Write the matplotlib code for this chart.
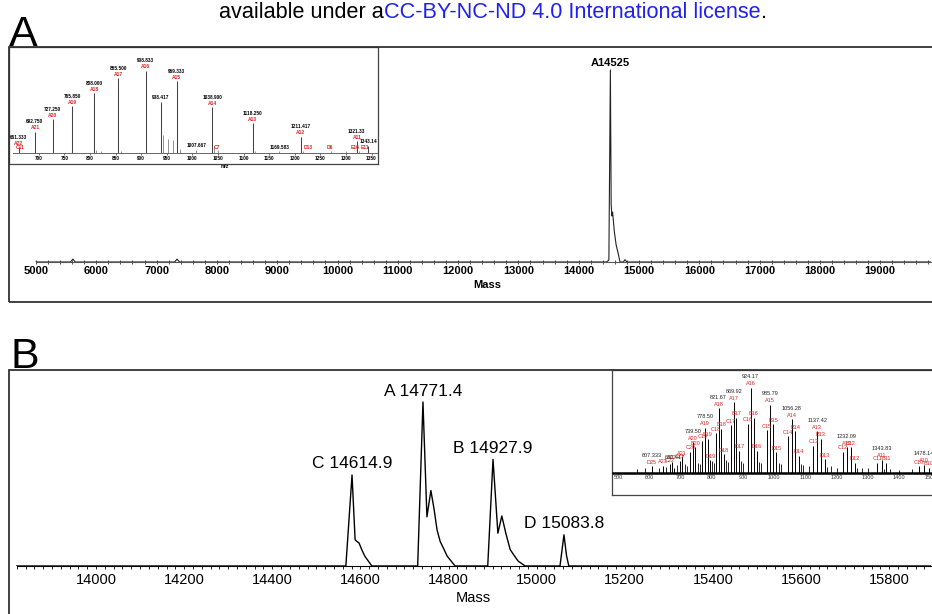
import matplotlib
matplotlib.use("Agg")
import matplotlib.pyplot as plt
from matplotlib.patches import Rectangle
from matplotlib.ticker import MultipleLocator, FixedLocator

plt.rcParams['font.family'] = ['Liberation Sans', 'DejaVu Sans']

# ---------------- data ----------------
header_parts = ["available under a", "CC-BY-NC-ND 4.0 International license", "."]
header_colors = ["black", "#2020f0", "black"]

# Panel A: deconvoluted spectrum (mass, relative intensity)
massA = [5000, 5570, 5613, 5650, 7300, 7338, 7380, 14460, 14500, 14525, 14538, 14550,
         14562, 14590, 14620, 14650, 14685, 14740, 14767, 14800, 19900]
intA = [0, 0, 1.5, 0, 0, 1.5, 0, 0, 1, 100, 30, 24, 26, 16, 9, 5, 0, 0, 1.2, 0, 0]
ticksA = [5000, 6000, 7000, 8000, 9000, 10000, 11000, 12000, 13000, 14000,
          15000, 16000, 17000, 18000, 19000]
peakA_label = "A14525"
peakA_mass = 14525
peakA_int = 100

# Panel A inset: m/z spectrum (sticks)
insetA_mz = [661.333, 692.750, 727.250, 765.850, 808.000, 855.500, 908.833, 938.417,
             969.333, 1038.900, 1118.250, 1211.417, 1321.33, 1343.14]
insetA_int = [7, 26, 41, 57, 73, 91, 100, 62, 87, 56, 36, 20, 14, 8.5]
insetA_val = ["661.333", "692.750", "727.250", "765.850", "808.000", "855.500", "908.833",
              "938.417", "969.333", "1038.900", "1118.250", "1211.417", "1321.33", "1343.14"]
insetA_ion = ["A22", "A21", "A20", "A19", "A18", "A17", "A16", "", "A15", "A14", "A13",
              "A12", "A11", ""]
minorA_mz = [812, 821, 860, 943.6, 953.4, 963.1, 975, 1007.7, 1043, 1050, 1123, 1169.6,
             1216, 1270, 1300, 1326]
minorA_int = [4, 3, 3, 22, 17, 16, 5, 4, 8, 4, 3, 2, 3, 2, 2, 3]
minorA_val = {1007.7: "1007.667", 1169.6: "1169.583"}
redA_mz = [664, 1048, 1226, 1268, 1318, 1338]
redA_txt = ["C11", "C7", "D13", "D6", "E16", "E11"]
ticksA_inset = [700, 750, 800, 850, 900, 950, 1000, 1050, 1100, 1150, 1200, 1250, 1300, 1350]

# Panel B: deconvoluted spectrum
massB = [13820, 14567, 14581, 14588, 14592, 14597, 14603, 14610, 14626,
         14730, 14742, 14751, 14760, 14767, 14774, 14781, 14790, 14797, 14815,
         14889, 14901, 14912, 14921, 14930, 14940, 14950, 14958, 14974,
         15053, 15062, 15068, 15073, 15895]
intB = [0, 0, 55.5, 16, 15, 14, 10, 6, 0,
        0, 100, 30, 46, 35, 22, 15, 10, 6, 0,
        0, 65, 20, 30.5, 20, 10, 6, 3, 0,
        0, 19, 6, 0, 0]
ticksB = [14000, 14200, 14400, 14600, 14800, 15000, 15200, 15400, 15600, 15800]
labelsB = ["C 14614.9", "A 14771.4", "B 14927.9", "D 15083.8"]
apexB_mass = [14581, 14742, 14901, 15062]
apexB_int = [55.5, 100, 65, 19]

# Panel B inset: m/z spectrum (sticks), charge series
insetB_A_mz = [643.2, 672.4, 704.4, 739.50, 778.50, 821.67, 869.92, 924.17, 985.79,
               1056.28, 1137.42, 1232.09, 1343.83, 1478.14]
insetB_A_int = [8, 13, 18, 36, 53, 76, 83, 100, 80, 63, 49, 30, 15, 9]
insetB_A_ion = ["A23", "A22", "A21", "A20", "A19", "A18", "A17", "A16", "A15", "A14",
                "A13", "A12", "A11", "A10"]
insetB_A_val = ["", "", "", "739.50", "778.50", "821.67", "869.92", "924.17", "985.79",
                "1056.28", "1137.42", "1232.09", "1343.83", "1478.14"]
insetB_B_mz = [747.4, 786.7, 830.3, 879.1, 934.0, 996.2, 1067.3, 1149.3, 1245.0, 1358.1, 1493.8]
insetB_B_int = [30, 40, 52, 65, 65, 57, 49, 40, 30, 12, 6]
insetB_B_ion = ["B20", "B19", "B18", "B17", "B16", "B15", "B14", "B13", "B12", "B11", "B10"]
insetB_C_mz = [665.3, 697.0, 731.7, 770.2, 813.0, 860.7, 914.4, 975.3, 1044.9, 1125.2,
               1218.9, 1329.6, 1462.5]
insetB_C_int = [10, 14, 25, 38, 47, 56, 58, 50, 43, 32, 25, 12, 8]
insetB_C_ion = ["C22", "C21", "C20", "C19", "C18", "C17", "C16", "C15", "C14", "C13",
                "C12", "C11", "C10"]
insetB_D_mz = [794.9, 839.0, 888.3, 943.7, 1006.6, 1078.4, 1161.3, 1258.0]
insetB_D_int = [15, 22, 26, 26, 24, 20, 16, 12]
insetB_D_ion = ["D19", "D18", "D17", "D16", "D15", "D14", "D13", "D12"]
insetB_X_mz = [607.333, 680.417]
insetB_X_int = [8, 6]
insetB_X_val = ["607.333", "680.417"]
insetB_X_ion = ["D25", ""]
minorB_mz = [560, 585, 630, 655, 690, 715, 722, 755, 762, 800, 806, 845, 852, 895, 900,
             950, 958, 1015, 1022, 1085, 1092, 1110, 1170, 1180, 1200, 1265, 1280, 1300,
             1350, 1370, 1400, 1440]
minorB_int = [4, 5, 6, 7, 9, 10, 8, 12, 10, 14, 12, 15, 13, 14, 12, 13, 12, 12, 10, 10,
              9, 8, 7, 8, 6, 6, 5, 5, 4, 4, 3, 4]
ticksB_inset = [500, 600, 700, 800, 900, 1000, 1100, 1200, 1300, 1400, 1500]

RED = "#e02424"

# ---------------- layout helpers ----------------
W, H = 932, 614
fig = plt.figure(figsize=(W / 100, H / 100), dpi=100)


def box(x0, y0, x1, y1):
    return [x0 / W, 1 - y1 / H, (x1 - x0) / W, (y1 - y0) / H]


def fx(x):
    return x / W


def fy(y):
    return 1 - y / H


def frame(x0, y0, x1, y1, lw=1.3, color="#333333"):
    fig.add_artist(Rectangle((fx(x0), fy(y1)), (x1 - x0) / W, (y1 - y0) / H,
                             transform=fig.transFigure, facecolor="none",
                             edgecolor=color, lw=lw, zorder=5))


def bare(ax):
    for s in ["top", "right", "left"]:
        ax.spines[s].set_visible(False)
    ax.set_yticks([])
    ax.patch.set_alpha(0)


# ---------------- header ----------------
renderer = fig.canvas.get_renderer()
texts = [fig.text(0, fy(12), s, color=c, fontsize=13, va="center", ha="left")
         for s, c in zip(header_parts, header_colors)]
total = sum(t.get_window_extent(renderer).width for t in texts)
scale = 545 / total
for t in texts:
    t.set_fontsize(13 * scale)
widths = [t.get_window_extent(renderer).width for t in texts]
x = 493 - sum(widths) / 2
for t, w in zip(texts, widths):
    t.set_x(fx(x))
    x += w

fig.text(fx(9), fy(46), "A", fontsize=31, ha="left", va="baseline")
fig.text(fx(10), fy(368), "B", fontsize=31, ha="left", va="baseline")

# ---------------- Panel A ----------------
axA = fig.add_axes(box(9, 47, 931, 262))
bare(axA)
axA.plot(massA, intA, color="#222222", lw=0.8)
axA.set_xlim(4552, 19842)
axA.set_ylim(0, 112)
axA.spines["bottom"].set_bounds(5000, 19842)
axA.spines["bottom"].set_color("#555555")
axA.spines["bottom"].set_linewidth(0.8)
axA.set_xticks(ticksA)
axA.set_xticklabels([str(t) for t in ticksA], fontweight="bold")
axA.xaxis.set_minor_locator(FixedLocator(list(range(5000, 19801, 200))))
axA.tick_params(axis="x", which="both", direction="inout", length=3, width=0.6,
                pad=1.5, labelsize=8, colors="#333333")
axA.tick_params(axis="x", labelcolor="black")
axA.annotate(peakA_label, (peakA_mass, peakA_int), xytext=(0, 1.5),
             textcoords="offset points", ha="center", va="bottom",
             fontsize=8, fontweight="bold")
fig.text(fx(487), fy(285), "Mass", ha="center", va="center", fontsize=8, fontweight="bold")
frame(9, 47, 945, 302)

# Panel A inset
axIAf = fig.add_axes(box(9, 47, 378, 164))
axIAf.set_xticks([])
axIAf.set_yticks([])
axIAf.set_facecolor("white")
for s in axIAf.spines.values():
    s.set_color("#444444")
    s.set_linewidth(0.9)

axIA = fig.add_axes(box(13, 47, 377, 153))
bare(axIA)
axIA.set_xlim(649.8, 1360.7)
axIA.set_ylim(0, 128.8)
axIA.vlines(insetA_mz, 0, insetA_int, color="#444444", lw=0.75)
axIA.vlines(minorA_mz, 0, minorA_int, color="#666666", lw=0.5)
axIA.spines["bottom"].set_color("#666666")
axIA.spines["bottom"].set_linewidth(0.7)
axIA.set_xticks(ticksA_inset)
axIA.set_xticklabels([str(t) for t in ticksA_inset], fontweight="bold")
axIA.tick_params(axis="x", length=1.2, width=0.4, pad=0.8, labelsize=3.4)
for mz, h, v, ion in zip(insetA_mz, insetA_int, insetA_val, insetA_ion):
    axIA.annotate(v, (mz, h), xytext=(0, 5.2 if ion else 1.2), textcoords="offset points",
                  ha="center", va="bottom", fontsize=3.4, fontweight="bold")
    if ion:
        axIA.annotate(ion, (mz, h), xytext=(0, 1.0), textcoords="offset points",
                      ha="center", va="bottom", fontsize=3.6, fontweight="bold", color=RED)
for mz, h in zip(minorA_mz, minorA_int):
    if mz in minorA_val:
        axIA.annotate(minorA_val[mz], (mz, h), xytext=(0, 1.0), textcoords="offset points",
                      ha="center", va="bottom", fontsize=3.4, fontweight="bold")
for mz, t in zip(redA_mz, redA_txt):
    axIA.annotate(t, (mz, 0), xytext=(0, 2.5), textcoords="offset points",
                  ha="center", va="bottom", fontsize=3.6, fontweight="bold", color=RED)
fig.text(fx(225), fy(167), "m/z", ha="center", va="center", fontsize=3.5, fontweight="bold")

# ---------------- Panel B ----------------
axB = fig.add_axes(box(9, 370, 931, 566))
bare(axB)
axB.plot(massB, intB, color="black", lw=1.0)
axB.set_xlim(13802.5, 15895)
axB.set_ylim(0, 119.5)
axB.spines["bottom"].set_bounds(13820, 15895)
axB.spines["bottom"].set_linewidth(0.8)
axB.set_xticks(ticksB)
axB.set_xticklabels([str(t) for t in ticksB])
axB.xaxis.set_minor_locator(MultipleLocator(20))
axB.tick_params(axis="x", which="both", direction="out", length=2.5, width=0.6,
                pad=2.5, labelsize=10.5)
for lab, m, h in zip(labelsB, apexB_mass, apexB_int):
    axB.annotate(lab, (m, h), xytext=(0, 2.5), textcoords="offset points",
                 ha="center", va="bottom", fontsize=12.5)
fig.text(fx(473), fy(598), "Mass", ha="center", va="center", fontsize=10.5)
frame(9, 370, 945, 640)

# Panel B inset
axIBf = fig.add_axes(box(612, 370, 945, 495))
axIBf.set_xticks([])
axIBf.set_yticks([])
axIBf.set_facecolor("white")
for s in axIBf.spines.values():
    s.set_color("#444444")
    s.set_linewidth(0.9)

axIB = fig.add_axes(box(613, 370, 932, 472.7))
bare(axIB)
axIB.set_xlim(484, 1504.8)
axIB.set_ylim(0, 121.3)
axIB.vlines(minorB_mz, 0, minorB_int, color="black", lw=0.6)
for mzs, ints in [(insetB_A_mz, insetB_A_int), (insetB_B_mz, insetB_B_int),
                  (insetB_C_mz, insetB_C_int), (insetB_D_mz, insetB_D_int),
                  (insetB_X_mz, insetB_X_int)]:
    axIB.vlines(mzs, 0, ints, color="black", lw=0.7)
axIB.spines["bottom"].set_linewidth(1.8)
axIB.set_xticks(ticksB_inset)
axIB.set_xticklabels([str(t) for t in ticksB_inset])
axIB.tick_params(axis="x", length=1.2, width=0.4, pad=0.6, labelsize=4, colors="#333333")
for mz, h, ion, v in zip(insetB_A_mz, insetB_A_int, insetB_A_ion, insetB_A_val):
    axIB.annotate(ion, (mz, h), xytext=(0, 1.2), textcoords="offset points",
                  ha="center", va="bottom", fontsize=4, color=RED)
    if v:
        axIB.annotate(v, (mz, h), xytext=(0, 6.2), textcoords="offset points",
                      ha="center", va="bottom", fontsize=4, color="#222222")
for mzs, ints, ions in [(insetB_B_mz, insetB_B_int, insetB_B_ion),
                        (insetB_C_mz, insetB_C_int, insetB_C_ion),
                        (insetB_D_mz, insetB_D_int, insetB_D_ion)]:
    for mz, h, ion in zip(mzs, ints, ions):
        axIB.annotate(ion, (mz, h), xytext=(0, 1.0), textcoords="offset points",
                      ha="center", va="bottom", fontsize=4, color=RED)
for mz, h, v, ion in zip(insetB_X_mz, insetB_X_int, insetB_X_val, insetB_X_ion):
    axIB.annotate(v, (mz, h), xytext=(0, 5.5), textcoords="offset points",
                  ha="center", va="bottom", fontsize=4, color="#222222")
    if ion:
        axIB.annotate(ion, (mz, h), xytext=(0, 1.0), textcoords="offset points",
                      ha="center", va="bottom", fontsize=4, color=RED)

fig.savefig("out.png", dpi=100)
